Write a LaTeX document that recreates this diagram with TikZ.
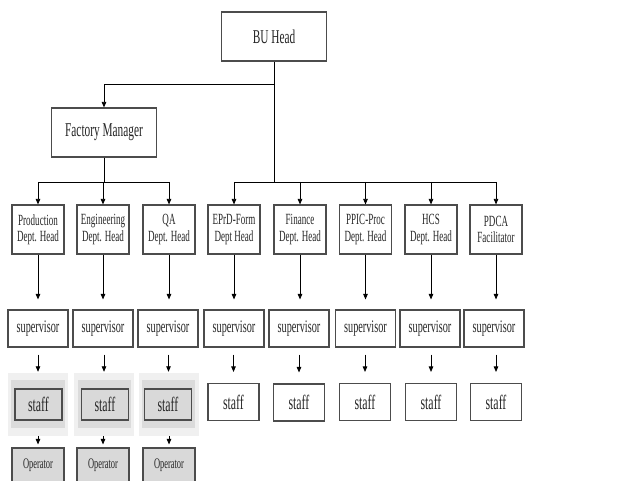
\documentclass[tikz,border=0pt]{standalone}
\usepackage{fontspec}
\setmainfont{Liberation Serif}[FakeStretch=0.58]
\usepackage{tikz}
\usetikzlibrary{arrows.meta}
\definecolor{boxline}{gray}{0.3}
\definecolor{halogray}{gray}{0.94}
\definecolor{bandgray}{gray}{0.86}
\definecolor{opgray}{gray}{0.85}

\begin{document}
\begin{tikzpicture}[x=1bp,y=-1bp,
  box/.style={draw=boxline,line width=1.1bp,fill=white,inner sep=0pt,align=center,text=black!85},
  head/.style={box,minimum width=105bp,minimum height=49bp,font=\fontsize{19.6}{22}\selectfont},
  dept/.style={box,minimum width=52bp,minimum height=49bp,font=\fontsize{15.6}{16.5}\selectfont},
  sup/.style={box,minimum width=60bp,minimum height=37bp,font=\fontsize{17.7}{19}\selectfont},
  stf/.style={box,minimum width=51bp,minimum height=37bp,font=\fontsize{20.5}{22}\selectfont},
  gstf/.style={stf,fill=opgray,minimum width=47bp,minimum height=31bp},
  halo/.style={fill=halogray,minimum width=60bp,minimum height=63bp,inner sep=0pt},
  band/.style={fill=bandgray,minimum width=53bp,minimum height=48bp,inner sep=0pt},
  op/.style={box,fill=opgray,minimum width=52bp,minimum height=34bp,font=\fontsize{14.6}{16}\selectfont},
  arr/.style={-{Triangle[length=5.5bp,width=4.5bp]},line width=0.8bp}]
\useasboundingbox (0,0) rectangle (619,481);

% top
\node[head] (bu) at (274,36.5) {BU Head};
\node[head] (fm) at (104,132.5) {Factory Manager};
\coordinate (j1) at (274,84);
\coordinate (j2) at (274,182);
\coordinate (j3) at (104,182);

% department heads
\node[dept] (prod) at (38,229.5) {Production\\Dept. Head};
\node[dept] (eng) at (103,229.5) {Engineering\\Dept. Head};
\node[dept] (qa) at (169,229.5) {QA\\Dept. Head};
\node[dept] (eprd) at (234,229.5) {EPrD-Form\\Dept Head};
\node[dept] (fin) at (300,229.5) {Finance\\Dept. Head};
\node[dept] (ppic) at (365.5,229.5) {PPIC-Proc\\Dept. Head};
\node[dept] (hcs) at (431,229.5) {HCS\\Dept. Head};
\node[dept] (pdca) at (496,229.5) {PDCA\\Facilitator};

% supervisors
\node[sup] (sup1) at (38,328.5) {supervisor};
\node[sup] (sup2) at (103,328.5) {supervisor};
\node[sup] (sup3) at (168,328.5) {supervisor};
\node[sup] (sup4) at (234,328.5) {supervisor};
\node[sup] (sup5) at (299,328.5) {supervisor};
\node[sup] (sup6) at (365.5,328.5) {supervisor};
\node[sup] (sup7) at (430,328.5) {supervisor};
\node[sup] (sup8) at (494,328.5) {supervisor};

% staff, shaded ones under the factory
\node[halo] (h1) at (38,404.5) {};
\node[halo] (h2) at (104,404.5) {};
\node[halo] (h3) at (168.5,404.5) {};
\node[band] at (38,404) {};
\node[band] at (104,404) {};
\node[band] at (168.5,404) {};
\node[gstf] (stf1) at (38.5,404.5) {staff};
\node[gstf] (stf2) at (105,404.5) {staff};
\node[gstf] (stf3) at (168,404.5) {staff};
\node[stf] (stf4) at (233.5,402) {staff};
\node[stf] (stf5) at (299,402.5) {staff};
\node[stf] (stf6) at (365,402) {staff};
\node[stf] (stf7) at (431,402) {staff};
\node[stf] (stf8) at (496,402) {staff};

% operators
\node[op] (op1) at (38,465) {Operator};
\node[op] (op2) at (103,465) {Operator};
\node[op] (op3) at (169,465) {Operator};

% connectors
\draw[line width=0.8bp] (bu.south) -- (j2);
\draw[arr] (j1) -| (fm.north);
\draw[line width=0.8bp] (fm.south) -- (j3);
\draw[line width=0.8bp] (prod.north |- j3) -- (qa.north |- j3);
\draw[line width=0.8bp] (eprd.north |- j2) -- (pdca.north |- j2);
\draw[arr] (prod.north |- j3) -- (prod.north);
\draw[arr] (eng.north |- j3) -- (eng.north);
\draw[arr] (qa.north |- j3) -- (qa.north);
\draw[arr] (eprd.north |- j2) -- (eprd.north);
\draw[arr] (fin.north |- j2) -- (fin.north);
\draw[arr] (ppic.north |- j2) -- (ppic.north);
\draw[arr] (hcs.north |- j2) -- (hcs.north);
\draw[arr] (pdca.north |- j2) -- (pdca.north);

\draw[arr,shorten >=10bp] (prod.south) -- (prod.south |- sup1.north);
\draw[arr,shorten >=10bp] (eng.south) -- (eng.south |- sup2.north);
\draw[arr,shorten >=10bp] (qa.south) -- (qa.south |- sup3.north);
\draw[arr,shorten >=10bp] (eprd.south) -- (eprd.south |- sup4.north);
\draw[arr,shorten >=10bp] (fin.south) -- (fin.south |- sup5.north);
\draw[arr,shorten >=10bp] (ppic.south) -- (ppic.south |- sup6.north);
\draw[arr,shorten >=10bp] (hcs.south) -- (hcs.south |- sup7.north);
\draw[arr,shorten >=10bp] (pdca.south) -- (pdca.south |- sup8.north);

\draw[arr,shorten <=7bp,shorten >=1bp] (h1.north |- sup1.south) -- (h1.north);
\draw[arr,shorten <=7bp,shorten >=1bp] (h2.north |- sup2.south) -- (h2.north);
\draw[arr,shorten <=7bp,shorten >=1bp] (h3.north |- sup3.south) -- (h3.north);
\draw[arr,shorten <=7bp,shorten >=11bp] (stf4.north |- sup4.south) -- (stf4.north);
\draw[arr,shorten <=7bp,shorten >=11bp] (stf5.north |- sup5.south) -- (stf5.north);
\draw[arr,shorten <=7bp,shorten >=11bp] (stf6.north |- sup6.south) -- (stf6.north);
\draw[arr,shorten <=7bp,shorten >=11bp] (stf7.north |- sup7.south) -- (stf7.north);
\draw[arr,shorten <=7bp,shorten >=11bp] (stf8.north |- sup8.south) -- (stf8.north);

\draw[arr,shorten >=3bp] (h1.south) -- (op1.north);
\draw[arr,shorten >=3bp] (h2.south -| op2.north) -- (op2.north);
\draw[arr,shorten >=3bp] (h3.south -| op3.north) -- (op3.north);
\end{tikzpicture}
\end{document}
